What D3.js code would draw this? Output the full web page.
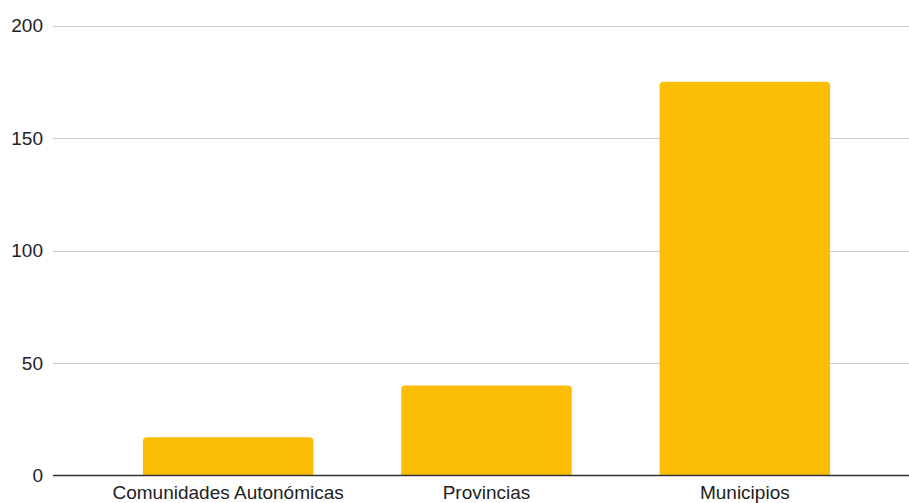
<!DOCTYPE html>
<html><head><meta charset="utf-8">
<script src="https://cdn.jsdelivr.net/npm/d3@7"></script>
<style>html,body{margin:0;padding:0;background:#fff;}svg{display:block;}</style>
</head><body>
<svg id="c" width="909" height="503"></svg>
<script>
const categories = ["Comunidades Autonómicas", "Provincias", "Municipios"];
const values = [17, 40, 175];
const yTicks = [0, 50, 100, 150, 200];

(function () {
const svg = d3.select("#c");
const plotLeft = 53, plotRight = 909, plotTop = 25.5, plotBottom = 475.5;

const x = d3.scaleBand().domain(categories).range([99, 874]).paddingInner(0.34).paddingOuter(0.17);
const y = d3.scaleLinear().domain([0, 200]).range([plotBottom, plotTop]);

// gridlines
svg.append("g").selectAll("line").data(yTicks.filter(d => d !== 0)).join("line")
  .attr("x1", plotLeft).attr("x2", plotRight)
  .attr("y1", d => Math.round(y(d)) + 0.5).attr("y2", d => Math.round(y(d)) + 0.5)
  .attr("stroke", "#cccccc").attr("stroke-width", 1);

// y labels
svg.append("g").selectAll("text").data(yTicks).join("text")
  .attr("x", 43).attr("y", d => y(d)).attr("dy", "0.35em")
  .attr("text-anchor", "end")
  .attr("font-family", "Liberation Sans, Arial, sans-serif").attr("font-size", 19)
  .attr("fill", "#222").text(d => d);

// bars with rounded top corners
const r = 4;
svg.append("g").selectAll("path").data(categories.map((c, i) => ({c, v: values[i]}))).join("path")
  .attr("d", d => {
    const x0 = x(d.c), x1 = x0 + x.bandwidth(), y0 = y(d.v), yb = y(0);
    return `M${x0},${yb}V${y0 + r}Q${x0},${y0} ${x0 + r},${y0}H${x1 - r}Q${x1},${y0} ${x1},${y0 + r}V${yb}Z`;
  })
  .attr("fill", "#fbbc04");

// baseline axis
svg.append("line").attr("x1", plotLeft).attr("x2", plotRight)
  .attr("y1", y(0)).attr("y2", y(0)).attr("stroke", "#333").attr("stroke-width", 1.5);

// category labels
svg.append("g").selectAll("text").data(categories).join("text")
  .attr("x", d => x(d) + x.bandwidth() / 2).attr("y", 499)
  .attr("text-anchor", "middle")
  .attr("font-family", "Liberation Sans, Arial, sans-serif").attr("font-size", 19)
  .attr("fill", "#222").text(d => d);
})();
</script>
</body></html>
